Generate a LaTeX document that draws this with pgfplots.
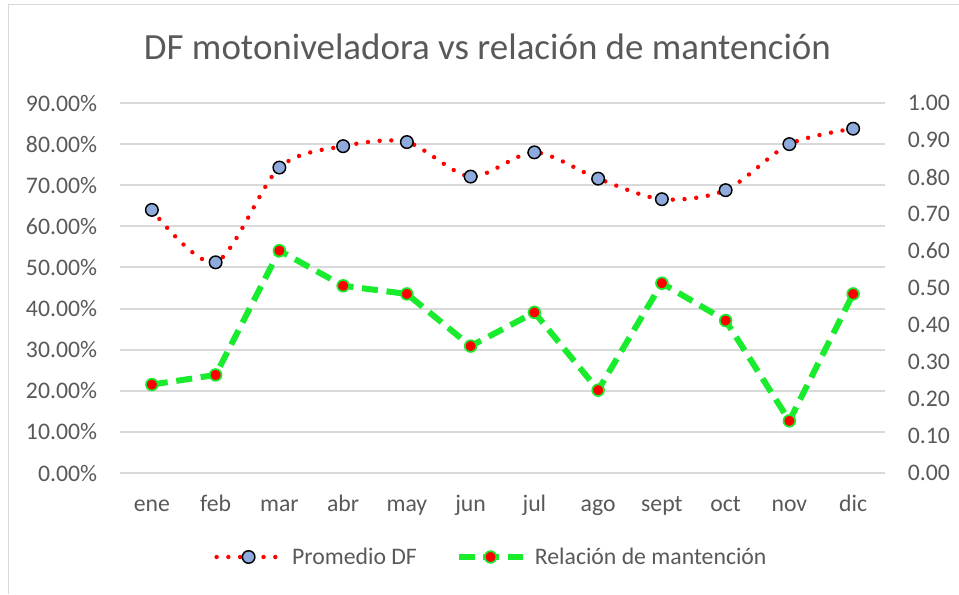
\documentclass[border=0pt]{standalone}
\usepackage{pgfplots}
\pgfplotsset{compat=1.18}
\usepackage{pgfplotstable}
\usepackage{fontspec}
\setmainfont{Carlito}
\definecolor{txt}{HTML}{595959}
\definecolor{gridc}{HTML}{D9D9D9}
\definecolor{dfblue}{HTML}{8FAADC}
\definecolor{lgreen}{RGB}{25,235,45}
\definecolor{framec}{HTML}{D9D9D9}

\pgfplotstableread{
x df
0 64.0
1 51.25
2 74.3
3 79.5
4 80.5
5 72.1
6 78.0
7 71.6
8 66.6
9 68.8
10 80.0
11 83.75
}\dftable

\pgfplotstableread{
x rel
0 0.239
1 0.265
2 0.601
3 0.506
4 0.484
5 0.343
6 0.434
7 0.224
8 0.513
9 0.412
10 0.141
11 0.484
}\reltable

\pgfplotsset{
  base/.style={
    at={(90pt,90.75pt)}, anchor=south west,
    width=573.75pt, height=277.5pt, scale only axis,
    xmin=-0.5, xmax=11.5,
    axis line style={draw=none},
    major tick length=0pt,
    /pgf/number format/assume math mode=true,
    tick label style={font=\fontsize{17.8pt}{20pt}\selectfont, text=txt, inner sep=0pt},
    clip=false,
  },
  dfstyle/.style={color=red, line width=3.3pt, dash pattern=on 0pt off 8.8pt, line cap=round, smooth, tension=0.5,
    mark=*, mark size=4.7pt, mark options={solid, fill=dfblue, draw=black, line width=1.1pt}},
  relstyle/.style={color=lgreen, line width=4.5pt, dash pattern=on 12pt off 6.5pt,
    mark=*, mark size=4.4pt, mark options={solid, fill=red, draw=lgreen, line width=1.3pt}},
}

\begin{document}
\begin{tikzpicture}
\useasboundingbox (0,0) rectangle (719.25pt,445.5pt);
\draw[framec, line width=0.75pt] (6pt,0pt) -- (6pt,441.75pt) -- (719.25pt,441.75pt);
\node[anchor=base, text=txt, font=\fontsize{27.7pt}{32pt}\selectfont, inner sep=0pt] at (365.6pt,400.5pt) {DF motoniveladora vs relación de mantención};

\begin{axis}[base,
  ymin=0, ymax=90, ytick={0,10,...,90},
  ymajorgrids, grid style={gridc, line width=1.5pt},
  yticklabel={\pgfmathprintnumber[fixed,fixed zerofill,precision=2]{\tick}\%},
  yticklabel style={anchor=east, xshift=-17pt},
  xtick={0,...,11},
  xticklabels={ene,feb,mar,abr,may,jun,jul,ago,sept,oct,nov,dic},
  xticklabel style={anchor=base, yshift=-28.5pt},
]
\addplot[dfstyle] table[x=x,y=df] {\dftable};
\end{axis}

\begin{axis}[base,
  ymin=0, ymax=1, ytick={0,0.1,...,1.01},
  axis y line*=right,
  axis x line=none,
  yticklabel={\pgfmathprintnumber[fixed,fixed zerofill,precision=2]{\tick}},
  yticklabel style={anchor=west, xshift=17pt},
  legend columns=2,
  legend style={draw=none, fill=none, at={(0.486,-0.227)}, anchor=center,
    font=\fontsize{17.8pt}{20pt}\selectfont, text=txt,
    /tikz/every even column/.append style={column sep=27pt}},
  legend image code/.code={\draw[mark repeat=2,mark phase=2,#1] plot coordinates {(0pt,0pt) (24pt,0pt) (48pt,0pt)}; \path (53pt,0pt);},
]
\addlegendimage{dfstyle}
\addlegendentry{Promedio DF}
\addplot[relstyle] table[x=x,y=rel] {\reltable};
\addlegendentry{Relación de mantención}
\end{axis}
\end{tikzpicture}
\end{document}
